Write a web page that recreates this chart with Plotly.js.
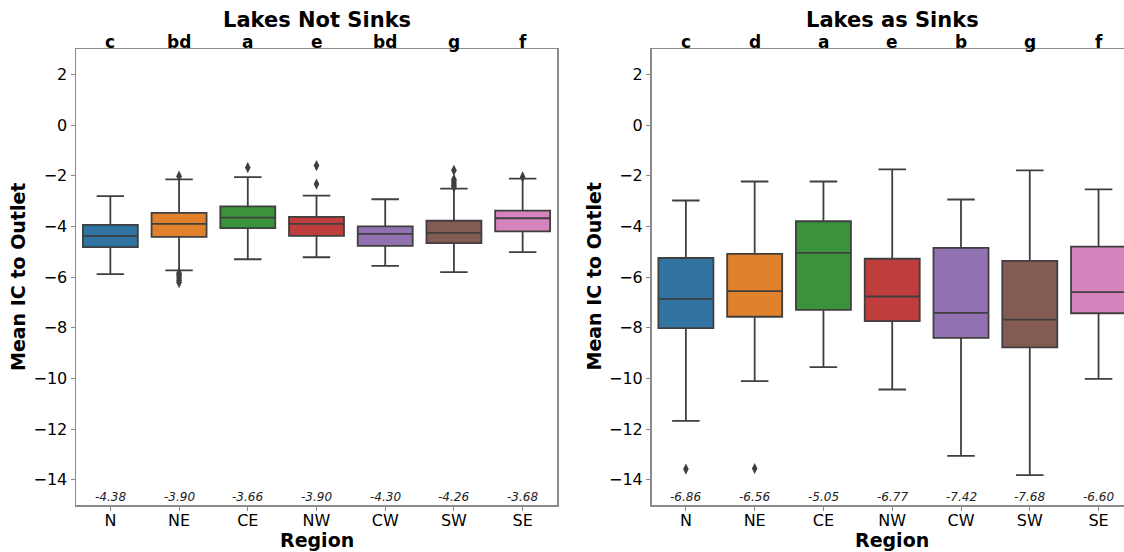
<!DOCTYPE html>
<html>
<head>
<meta charset="utf-8">
<script src="https://cdn.plot.ly/plotly-3.0.1.min.js"></script>
<style>
  html, body { margin: 0; padding: 0; background: #ffffff; }
  #chart { width: 1124px; height: 552px; }
</style>
</head>
<body>
<div id="chart"></div>
<script>
// Regions and box colours
const regions = ['N', 'NE', 'CE', 'NW', 'CW', 'SW', 'SE'];
const regionColors = ['#3274a1', '#e1812c', '#3a923a', '#c03d3e', '#9372b2', '#845b53', '#d684bd'];

// Lakes Not Sinks: box statistics per region
const notSinkQ1 = [-4.82, -4.42, -4.07, -4.38, -4.77, -4.66, -4.20];
const notSinkMedian = [-4.38, -3.90, -3.66, -3.90, -4.30, -4.26, -3.68];
const notSinkQ3 = [-3.94, -3.47, -3.21, -3.63, -4.00, -3.78, -3.38];
const notSinkLowerWhisker = [-5.89, -5.74, -5.30, -5.22, -5.56, -5.81, -5.02];
const notSinkUpperWhisker = [-2.81, -2.15, -2.06, -2.79, -2.93, -2.51, -2.12];
const notSinkOutliers = [
  [],
  [-2.02, -5.84, -5.90, -5.97, -6.05, -6.13, -6.22],
  [-1.68],
  [-1.60, -2.33],
  [],
  [-1.79, -2.15, -2.22, -2.30, -2.38, -2.45],
  [-2.05]
];
const notSinkLetters = ['c', 'bd', 'a', 'e', 'bd', 'g', 'f'];

// Lakes as Sinks: box statistics per region
const sinkQ1 = [-8.02, -7.57, -7.30, -7.74, -8.40, -8.78, -7.43];
const sinkMedian = [-6.86, -6.56, -5.05, -6.77, -7.42, -7.68, -6.60];
const sinkQ3 = [-5.25, -5.09, -3.80, -5.28, -4.85, -5.36, -4.80];
const sinkLowerWhisker = [-11.68, -10.11, -9.56, -10.44, -13.06, -13.82, -10.02];
const sinkUpperWhisker = [-2.98, -2.23, -2.23, -1.75, -2.94, -1.79, -2.54];
const sinkOutliers = [[-13.58], [-13.56], [], [], [], [], []];
const sinkLetters = ['c', 'd', 'a', 'e', 'b', 'g', 'f'];

const edgeColor = '#3f3f3f';
const frameColor = '#8a8a8a';
const FONT = 'DejaVu Sans, Liberation Sans, sans-serif';

const traces = [];
const annotations = [];

function addPanel(q1, med, q3, lo, hi, outliers, letters, xa, ya, title, centerPaperX) {
  regions.forEach((r, i) => {
    traces.push({
      type: 'box',
      x: [r],
      q1: [q1[i]], median: [med[i]], q3: [q3[i]],
      lowerfence: [lo[i]], upperfence: [hi[i]],
      width: 0.8,
      whiskerwidth: 0.5,
      boxpoints: false,
      fillcolor: regionColors[i],
      line: { color: edgeColor, width: 1.8 },
      xaxis: xa, yaxis: ya,
      showlegend: false,
      hoverinfo: 'y'
    });
    if (outliers[i].length) {
      traces.push({
        type: 'scatter', mode: 'markers',
        x: outliers[i].map(() => r),
        y: outliers[i],
        marker: { symbol: 'diamond-tall', size: 8, color: edgeColor },
        xaxis: xa, yaxis: ya,
        showlegend: false,
        hoverinfo: 'y'
      });
    }
    // significance letter above the frame
    annotations.push({
      xref: xa, yref: 'paper', x: r, y: 0.9112,
      yanchor: 'bottom', xanchor: 'center', yshift: -5,
      text: letters[i], showarrow: false,
      font: { family: FONT, size: 17, color: '#000', weight: 'bold' }
    });
    // median value near the bottom
    annotations.push({
      xref: xa, yref: ya, x: r, y: -15,
      yanchor: 'bottom', xanchor: 'center', yshift: -1,
      text: med[i].toFixed(2), showarrow: false,
      font: { family: FONT, size: 12, color: '#222', style: 'italic' }
    });
  });
  annotations.push({
    xref: 'paper', yref: 'paper', x: centerPaperX, y: 1 - 20 / 552,
    xanchor: 'center', yanchor: 'middle',
    text: title, showarrow: false,
    font: { family: FONT, size: 21, color: '#000', weight: 'bold' }
  });
  annotations.push({
    xref: 'paper', yref: 'paper', x: centerPaperX, y: 0,
    xanchor: 'center', yanchor: 'bottom', borderpad: 0,
    text: 'Region', showarrow: false,
    font: { family: FONT, size: 19, color: '#000', weight: 'bold' }
  });
}

addPanel(notSinkQ1, notSinkMedian, notSinkQ3, notSinkLowerWhisker, notSinkUpperWhisker,
  notSinkOutliers, notSinkLetters, 'x', 'y', 'Lakes Not Sinks', 316.5 / 1124);
addPanel(sinkQ1, sinkMedian, sinkQ3, sinkLowerWhisker, sinkUpperWhisker,
  sinkOutliers, sinkLetters, 'x2', 'y2', 'Lakes as Sinks', 892 / 1124);

// y-axis titles
[18, 593.5].forEach(px => {
  annotations.push({
    xref: 'paper', yref: 'paper', x: px / 1124, y: 1 - 277 / 552,
    xanchor: 'center', yanchor: 'middle', textangle: -90,
    text: 'Mean IC to Outlet', showarrow: false,
    font: { family: FONT, size: 19, color: '#000', weight: 'bold' }
  });
});

const yDomain = [47 / 552, 503 / 552];

const xBase = {
  type: 'category',
  categoryorder: 'array',
  categoryarray: regions,
  showgrid: false, zeroline: false,
  showline: true, linecolor: frameColor, linewidth: 1.5, mirror: true,
  ticks: 'outside', ticklen: 4, tickwidth: 1, tickcolor: frameColor,
  ticklabelstandoff: -4,
  tickfont: { family: FONT, size: 16, color: '#000' },
  fixedrange: true
};
const yBase = {
  range: [-15, 3],
  tickmode: 'array',
  tickvals: [2, 0, -2, -4, -6, -8, -10, -12, -14],
  showgrid: false, zeroline: false,
  showline: true, linecolor: frameColor, linewidth: 1.5,
  ticks: 'outside', ticklen: 4, tickwidth: 1, tickcolor: frameColor,
  tickfont: { family: FONT, size: 16, color: '#000' },
  domain: yDomain,
  fixedrange: true
};

const layout = {
  width: 1124, height: 552,
  margin: { l: 0, r: 0, t: 0, b: 0 },
  paper_bgcolor: '#ffffff', plot_bgcolor: '#ffffff',
  font: { family: FONT, color: '#000' },
  boxmode: 'overlay',
  showlegend: false,
  xaxis: Object.assign({}, xBase, { domain: [76 / 1124, 557 / 1124], range: [-0.5, 6.5], anchor: 'y' }),
  yaxis: Object.assign({}, yBase, { anchor: 'x', mirror: true }),
  xaxis2: Object.assign({}, xBase, { domain: [651.5 / 1124, 1], range: [-0.5, 6.37], anchor: 'y2' }),
  yaxis2: Object.assign({}, yBase, { anchor: 'x2', mirror: false }),
  annotations: annotations
};

Plotly.newPlot('chart', traces, layout, { displayModeBar: false, staticPlot: true });
</script>
</body>
</html>
